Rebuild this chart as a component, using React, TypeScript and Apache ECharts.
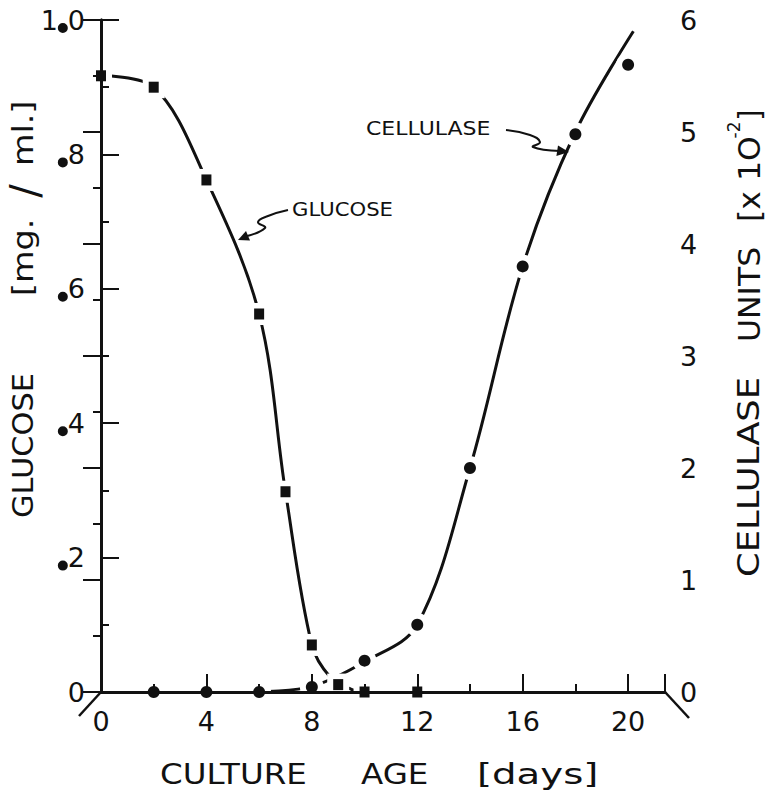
import React, { useEffect, useRef } from 'react';
import * as echarts from 'echarts';

const FONT = 'DejaVu Sans';

// Axis scales / tick steps
const xTickStep = 4;
const xMinorStep = 2;
const xMax = 21.4;
const glucoseMax = 1.0;
const glucoseStep = 0.2;
const cellulaseMax = 6;
const cellulaseStep = 1;

// Measured points (squares): glucose, mg/ml
const glucoseDays = [0, 2, 4, 6, 7, 8, 9, 10, 12];
const glucoseValues = [0.917, 0.9, 0.762, 0.5625, 0.298, 0.07, 0.011, 0, 0];

// Measured points (circles): cellulase units x10^-2
const cellulaseDays = [2, 4, 6, 8, 10, 12, 14, 16, 18, 20];
const cellulaseValues = [0, 0, 0, 0.045, 0.28, 0.6, 2.0, 3.8, 4.98, 5.6];

// Hand-drawn fitted curves
const glucoseCurveDays = [0, 2, 4, 6, 7, 8, 8.7, 9.5, 10];
const glucoseCurveValues = [0.917, 0.9, 0.762, 0.5625, 0.298, 0.07, 0.022, 0.004, 0];
const cellulaseCurveDays = [6, 8, 10, 12, 14, 16, 18, 20.2];
const cellulaseCurveValues = [0, 0.05, 0.27, 0.6, 2.0, 3.8, 5.0, 5.9];

const pairs = (xs: number[], ys: number[]) => xs.map((x, i) => [x, ys[i]]);

export default function App() {
  const ref = useRef<HTMLDivElement>(null);
  useEffect(() => {
    if (!ref.current) return;
    const chart = echarts.init(ref.current, undefined, { renderer: 'svg' });
    const black = '#111';
    const axisCommon = {
      z: 4,
      axisLine: { show: true, lineStyle: { color: black, width: 3 } },
      splitLine: { show: false },
    };
    const titleText = (text: string, x: number, y: number, scaleX: number, size = 29) => ({
      type: 'text',
      x,
      y,
      scaleX,
      style: { text, fontFamily: FONT, fontSize: size, fill: black, align: 'left', verticalAlign: 'middle' },
    });
    const vText = (
      text: string,
      x: number,
      y: number,
      scaleX: number,
      size = 30,
      align = 'left',
      lineHeight?: number
    ) => ({
      type: 'text',
      x,
      y,
      rotation: Math.PI / 2,
      scaleX,
      style: {
        text,
        fontFamily: FONT,
        fontSize: size,
        fill: black,
        align,
        verticalAlign: 'middle',
        ...(lineHeight ? { lineHeight } : {}),
      },
    });
    chart.setOption({
      animation: false,
      backgroundColor: '#fff',
      grid: { left: 101, right: 108, top: 20, bottom: 103, containLabel: false },
      xAxis: [
        {
          ...axisCommon,
          type: 'value',
          position: 'bottom',
          min: 0,
          max: xMax,
          interval: xTickStep,
          axisTick: { show: true, inside: true, length: 18, lineStyle: { color: black, width: 2 } },
          axisLabel: {
            margin: 16,
            fontFamily: FONT,
            fontSize: 27,
            color: black,
            formatter: (v: number) => (Math.abs(v % xTickStep) < 1e-9 ? String(v) : ''),
          },
        },
        {
          ...axisCommon,
          type: 'value',
          position: 'bottom',
          min: 0,
          max: xMax,
          interval: xMinorStep,
          axisLine: { show: false },
          axisTick: { show: true, inside: true, length: 8, lineStyle: { color: black, width: 2 } },
          axisLabel: { show: false },
        },
      ],
      yAxis: [
        {
          ...axisCommon,
          type: 'value',
          position: 'left',
          min: 0,
          max: glucoseMax,
          interval: glucoseStep,
          axisTick: { show: true, inside: true, length: 18, lineStyle: { color: black, width: 2 } },
          minorTick: { show: true, splitNumber: 2, length: 8, lineStyle: { color: black, width: 2 } },
          axisLabel: {
            margin: 16,
            fontFamily: FONT,
            fontSize: 27,
            color: black,
            formatter: (v: number) => {
              if (v === 0) return '{n|0}';
              if (Math.abs(v - 1) < 1e-9) return '{n|1}{d|.}{n|0}';
              return '{d|.}{n|' + Math.round(v * 10) + '}';
            },
            rich: {
              n: { fontFamily: FONT, fontSize: 27, color: black, lineHeight: 26 },
              d: {
                width: 10,
                height: 10,
                lineHeight: 10,
                fontSize: 10,
                borderRadius: 5,
                backgroundColor: black,
                color: 'rgba(0,0,0,0)',
                verticalAlign: 'bottom',
              },
            },
          },
        },
        {
          ...axisCommon,
          type: 'value',
          position: 'right',
          min: 0,
          max: cellulaseMax,
          interval: cellulaseStep,
          axisTick: { show: true, inside: true, length: 18, lineStyle: { color: black, width: 2 } },
          minorTick: { show: true, splitNumber: 2, length: 8, lineStyle: { color: black, width: 2 } },
          axisLabel: { margin: 15, fontFamily: FONT, fontSize: 27, color: black },
        },
      ],
      series: [
        {
          type: 'line',
          name: 'glucose curve',
          yAxisIndex: 0,
          data: pairs(glucoseCurveDays, glucoseCurveValues),
          smooth: 0.35,
          symbol: 'none',
          lineStyle: { color: black, width: 3 },
          z: 2,
          silent: true,
        },
        {
          type: 'line',
          name: 'cellulase curve',
          yAxisIndex: 1,
          data: pairs(cellulaseCurveDays, cellulaseCurveValues),
          smooth: 0.35,
          symbol: 'none',
          lineStyle: { color: black, width: 3 },
          z: 2,
          silent: true,
        },
        {
          type: 'scatter',
          yAxisIndex: 0,
          data: pairs(glucoseDays, glucoseValues),
          symbol: 'rect',
          symbolSize: 22,
          itemStyle: { color: '#fff', opacity: 1 },
          z: 3,
          silent: true,
        },
        {
          type: 'scatter',
          yAxisIndex: 1,
          data: pairs(cellulaseDays, cellulaseValues),
          symbol: 'circle',
          symbolSize: 24,
          itemStyle: { color: '#fff', opacity: 1 },
          z: 3,
          silent: true,
        },
        {
          type: 'scatter',
          name: 'GLUCOSE',
          yAxisIndex: 0,
          data: pairs(glucoseDays, glucoseValues),
          symbol: 'rect',
          symbolSize: [10, 11],
          itemStyle: { color: black, opacity: 1 },
          z: 5,
        },
        {
          type: 'scatter',
          name: 'CELLULASE',
          yAxisIndex: 1,
          data: pairs(cellulaseDays, cellulaseValues),
          symbol: 'circle',
          symbolSize: 12,
          itemStyle: { color: black, opacity: 1 },
          z: 5,
        },
      ],
      graphic: [
        // corner diagonals
        { type: 'line', shape: { x1: 101, y1: 692, x2: 79, y2: 716 }, style: { stroke: black, lineWidth: 2.5 } },
        { type: 'line', shape: { x1: 665, y1: 692, x2: 689, y2: 718 }, style: { stroke: black, lineWidth: 2.5 } },
        // x axis title
        titleText('CULTURE', 160, 774, 1.16, 28),
        titleText('AGE', 361, 774, 1.16, 28),
        titleText('[days]', 477, 774, 1.38, 28),
        // left axis title
        vText('GLUCOSE', 23, 518, 1.05, 29),
        vText('[mg.', 23, 296, 1.15, 29),
        vText('/', 25, 191, 1.0, 40, 'center', 30),
        vText('ml.]', 23, 166, 1.15, 29),
        // right axis title
        vText('CELLULASE', 749, 577, 1.18, 30),
        vText('UNITS', 749, 342, 1.05, 30),
        vText('[x 1O', 749, 222, 1.05, 30),
        {
          type: 'text',
          x: 734,
          y: 130,
          rotation: Math.PI / 2,
          style: { text: '-2', fontFamily: FONT, fontSize: 17, fill: black, align: 'center', verticalAlign: 'middle' },
        },
        vText(']', 749, 121, 1.0, 30),
        // series annotations
        {
          type: 'text',
          x: 292,
          y: 209,
          scaleX: 1.06,
          style: { text: 'GLUCOSE', fontFamily: FONT, fontSize: 20, fill: black, align: 'left', verticalAlign: 'middle' },
        },
        {
          type: 'polyline',
          shape: { points: [[288, 210], [268, 216], [258, 222], [265, 228], [243, 237]], smooth: 0.5 },
          style: { stroke: black, lineWidth: 2, fill: 'none' },
        },
        { type: 'polygon', shape: { points: [[238, 240], [250, 240.5], [246, 231]] }, style: { fill: black } },
        {
          type: 'text',
          x: 366,
          y: 128,
          scaleX: 1.1,
          style: { text: 'CELLULASE', fontFamily: FONT, fontSize: 20, fill: black, align: 'left', verticalAlign: 'middle' },
        },
        {
          type: 'polyline',
          shape: { points: [[506, 130], [530, 135], [540, 142], [533, 147], [560, 151]], smooth: 0.5 },
          style: { stroke: black, lineWidth: 2, fill: 'none' },
        },
        { type: 'polygon', shape: { points: [[569, 152], [556.4, 156], [558, 145.4]] }, style: { fill: black } },
      ],
    });
    return () => chart.dispose();
  }, []);
  return (
    <div
      ref={ref}
      style={{ position: 'absolute', left: 0, top: 0, width: 773, height: 795, background: '#fff' }}
    />
  );
}
